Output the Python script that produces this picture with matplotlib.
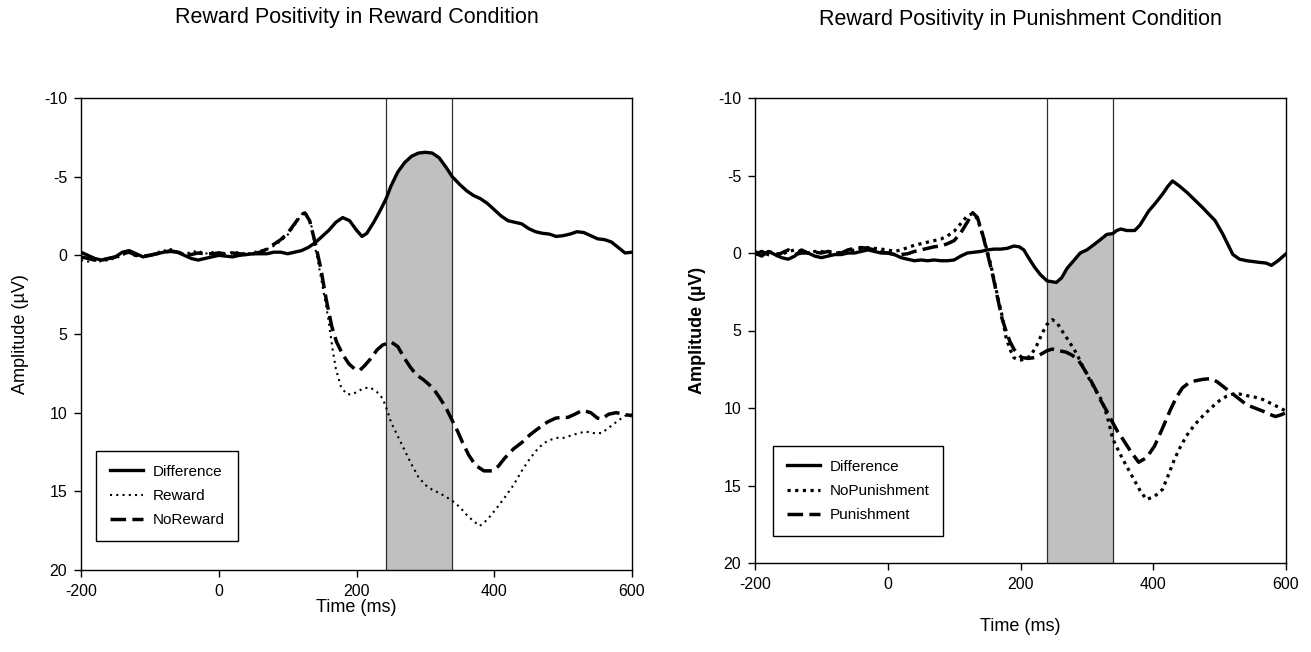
import matplotlib
matplotlib.use('Agg')
import matplotlib.pyplot as plt

plt.rcParams['font.family'] = ['Liberation Sans', 'DejaVu Sans']
plt.rcParams['axes.unicode_minus'] = False

# ---- Reward condition (left panel) ----
t_diff_rew = [-200, -190, -180, -170, -160, -150, -140, -130, -120, -110, -100, -90, -80, -70, -60, -50,
              -40, -30, -20, -10, 0, 10, 20, 30, 40, 50, 60, 70, 80, 90, 100, 110, 120, 130, 140, 150,
              160, 170, 180, 190, 200, 208, 215, 225, 235, 243, 250, 260, 270, 280, 290, 300, 310, 320,
              330, 339, 350, 360, 370, 380, 390, 400, 410, 420, 430, 440, 450, 460, 470, 480, 490, 500,
              510, 520, 530, 540, 550, 560, 570, 580, 590, 600]
diff_rew = [-0.2, 0.0, 0.2, 0.3, 0.2, 0.1, -0.2, -0.3, -0.1, 0.1, 0.0, -0.1, -0.2, -0.3, -0.2, 0.0,
            0.2, 0.3, 0.2, 0.1, 0.0, 0.05, 0.1, 0.0, -0.05, -0.1, -0.1, -0.1, -0.2, -0.2, -0.1, -0.2,
            -0.3, -0.5, -0.8, -1.2, -1.6, -2.1, -2.4, -2.2, -1.6, -1.2, -1.4, -2.1, -2.9, -3.6, -4.4,
            -5.3, -5.9, -6.3, -6.5, -6.55, -6.5, -6.2, -5.6, -5.0, -4.5, -4.1, -3.8, -3.6, -3.3, -2.9,
            -2.5, -2.2, -2.1, -2.0, -1.7, -1.5, -1.4, -1.35, -1.2, -1.25, -1.35, -1.5, -1.45, -1.25,
            -1.05, -1.0, -0.85, -0.5, -0.15, -0.2]

t_reward = [-200, -190, -180, -170, -160, -150, -140, -130, -120, -110, -100, -90, -80, -70, -60, -50,
            -40, -30, -20, -10, 0, 10, 20, 30, 40, 50, 60, 70, 80, 90, 100, 110, 120, 127, 135, 140,
            145, 150, 155, 160, 165, 170, 177, 185, 192, 200, 210, 220, 230, 238, 245, 250, 260, 270,
            280, 290, 300, 310, 320, 330, 339, 350, 360, 370, 379, 390, 403, 415, 428, 440, 452, 465,
            477, 490, 501, 515, 532, 545, 556, 568, 580, 590, 600]
reward = [0.3, 0.4, 0.3, 0.4, 0.3, 0.2, 0.0, -0.2, 0.1, 0.0, 0.0, -0.2, -0.3, -0.4, -0.2, -0.1,
          -0.2, -0.3, -0.1, -0.2, -0.2, -0.1, -0.2, -0.2, -0.1, -0.2, -0.3, -0.4, -0.6, -0.9, -1.3,
          -1.9, -2.6, -2.7, -1.8, -0.5, 0.6, 1.8, 3.0, 4.3, 5.9, 7.2, 8.3, 8.8, 8.85, 8.7, 8.45, 8.4,
          8.7, 9.1, 9.9, 10.6, 11.5, 12.4, 13.3, 14.1, 14.6, 14.9, 15.1, 15.35, 15.6, 16.0, 16.5, 16.9,
          17.2, 16.8, 16.1, 15.4, 14.6, 13.7, 12.9, 12.2, 11.8, 11.6, 11.6, 11.4, 11.2, 11.3, 11.3,
          10.9, 10.5, 10.2, 10.1]

t_noreward = [-200, -190, -180, -170, -160, -150, -140, -130, -120, -110, -100, -90, -80, -70, -60, -50,
              -40, -30, -20, -10, 0, 10, 20, 30, 40, 50, 60, 70, 80, 90, 100, 110, 120, 125, 132, 140,
              148, 156, 164, 171, 180, 189, 198, 205, 212, 220, 230, 238, 250, 260, 269, 278, 287, 297,
              305, 312, 320, 330, 339, 347, 354, 363, 373, 385, 397, 406, 415, 428, 440, 452, 464, 477,
              489, 498, 507, 517, 528, 540, 550, 556, 566, 577, 588, 600]
noreward = [0.1, 0.2, 0.3, 0.3, 0.2, 0.1, -0.1, -0.2, 0.0, 0.05, 0.0, -0.1, -0.2, -0.25, -0.2, -0.1,
            -0.05, -0.15, -0.1, -0.1, -0.15, -0.1, -0.15, -0.1, -0.05, -0.1, -0.2, -0.4, -0.7, -1.0,
            -1.4, -2.0, -2.6, -2.7, -2.2, -0.8, 0.8, 2.8, 4.5, 5.5, 6.3, 6.9, 7.25, 7.3, 7.0, 6.6, 6.0,
            5.7, 5.5, 5.8, 6.5, 7.1, 7.6, 7.9, 8.2, 8.5, 9.0, 9.7, 10.5, 11.2, 11.9, 12.7, 13.35, 13.7,
            13.7, 13.4, 12.9, 12.3, 11.9, 11.4, 11.0, 10.6, 10.35, 10.3, 10.3, 10.1, 9.85, 10.0, 10.35,
            10.4, 10.1, 10.0, 10.1, 10.2]

# ---- Punishment condition (right panel) ----
t_diff_pun = [-200, -190, -180, -170, -160, -150, -140, -130, -120, -110, -100, -90, -80, -70, -60, -50,
              -40, -30, -20, -10, 0, 10, 20, 30, 40, 50, 60, 70, 80, 90, 100, 110, 120, 130, 140, 150,
              160, 170, 180, 190, 198, 205, 212, 221, 230, 240, 247, 254, 262, 270, 280, 290, 300, 311,
              320, 330, 339, 345, 351, 360, 372, 380, 393, 403, 414, 422, 429, 440, 451, 463, 475, 485,
              493, 505, 513, 520, 530, 541, 550, 559, 570, 578, 588, 600]
diff_pun = [0.0, 0.2, -0.1, 0.1, 0.3, 0.4, 0.2, -0.2, 0.0, 0.2, 0.3, 0.2, 0.1, 0.1, 0.0, 0.0,
            -0.1, -0.2, -0.1, 0.0, 0.0, 0.1, 0.3, 0.4, 0.5, 0.45, 0.5, 0.45, 0.5, 0.5, 0.45, 0.2, 0.0,
            -0.05, -0.1, -0.2, -0.25, -0.25, -0.3, -0.45, -0.4, -0.2, 0.3, 0.9, 1.4, 1.8, 1.85, 1.9,
            1.6, 1.0, 0.5, 0.0, -0.2, -0.55, -0.85, -1.2, -1.25, -1.45, -1.55, -1.45, -1.45, -1.8, -2.7,
            -3.2, -3.8, -4.3, -4.65, -4.3, -3.9, -3.4, -2.9, -2.45, -2.1, -1.2, -0.5, 0.1, 0.4, 0.5,
            0.55, 0.6, 0.65, 0.8, 0.5, 0.05]

t_nopun = [-200, -190, -180, -170, -160, -150, -140, -130, -120, -110, -100, -90, -80, -70, -60, -50,
           -40, -30, -20, -10, 0, 10, 20, 30, 40, 50, 60, 70, 80, 90, 100, 110, 120, 128, 135, 145,
           155, 165, 172, 178, 184, 190, 196, 202, 208, 215, 224, 233, 240, 248, 255, 263, 273, 284,
           295, 305, 314, 323, 331, 339, 347, 354, 363, 372, 381, 390, 402, 414, 423, 432, 441, 450,
           462, 475, 487, 499, 510, 520, 530, 541, 553, 565, 582, 600]
nopun = [-0.1, 0.1, -0.1, 0.0, 0.1, -0.1, -0.2, -0.1, 0.0, -0.1, -0.1, 0.0, 0.0, 0.0, -0.1, -0.2,
         -0.3, -0.35, -0.3, -0.25, -0.2, -0.1, -0.2, -0.35, -0.5, -0.6, -0.7, -0.8, -0.9, -1.1, -1.4,
         -1.9, -2.4, -2.55, -2.2, -0.9, 0.7, 2.7, 4.0, 5.4, 6.2, 6.75, 6.9, 6.9, 6.8, 6.65, 6.0, 5.15,
         4.6, 4.3, 4.5, 5.05, 5.7, 6.45, 7.4, 8.25, 8.9, 9.55, 10.6, 12.0, 12.7, 13.3, 14.0, 14.7,
         15.4, 15.9, 15.7, 15.25, 14.3, 13.3, 12.5, 11.8, 11.1, 10.5, 10.0, 9.55, 9.25, 9.1, 9.1, 9.2,
         9.3, 9.45, 9.8, 10.2]

t_pun = [-200, -190, -180, -170, -160, -150, -140, -130, -120, -110, -100, -90, -80, -70, -60, -50,
         -40, -30, -20, -10, 0, 10, 20, 30, 40, 50, 60, 70, 80, 90, 100, 110, 120, 128, 135, 143,
         150, 158, 166, 172, 178, 184, 190, 196, 202, 212, 221, 232, 240, 248, 258, 269, 278, 287,
         296, 305, 313, 320, 330, 339, 346, 354, 366, 378, 390, 402, 414, 426, 435, 444, 453, 463,
         475, 487, 496, 505, 514, 523, 532, 541, 553, 565, 575, 584, 592, 600]
pun = [0.1, -0.1, 0.1, 0.2, 0.0, -0.2, 0.1, 0.0, 0.0, -0.05, 0.0, -0.1, -0.05, 0.0, -0.2, -0.3,
       -0.35, -0.3, -0.2, -0.05, 0.0, 0.1, 0.1, 0.05, -0.1, -0.2, -0.3, -0.4, -0.45, -0.6, -0.8,
       -1.3, -2.0, -2.6, -2.3, -1.2, 0.0, 1.4, 3.0, 4.2, 5.0, 5.7, 6.2, 6.5, 6.75, 6.8, 6.75, 6.5,
       6.3, 6.2, 6.3, 6.4, 6.6, 6.9, 7.5, 8.15, 8.8, 9.45, 10.2, 10.95, 11.5, 12.0, 12.8, 13.5, 13.2,
       12.45, 11.3, 10.1, 9.3, 8.7, 8.4, 8.25, 8.15, 8.1, 8.3, 8.6, 8.9, 9.2, 9.5, 9.8, 10.0, 10.2,
       10.4, 10.55, 10.45, 10.3]

win_rew = (243, 339)
win_pun = (240, 339)
yticks = [-10, -5, 0, 5, 10, 15, 20]
xticks = [-200, 0, 200, 400, 600]


def panel(ax, t_d, d, t_a, a, t_b, b, names, win, dot_style):
    inside = [(t >= win[0]) and (t <= win[1]) for t in t_d]
    ax.fill_between(t_d, d, 20, where=inside, color='#c0c0c0', lw=0, zorder=1)
    ax.axvline(win[0], color='#303030', lw=0.9, zorder=2)
    ax.axvline(win[1], color='#303030', lw=0.9, zorder=2)
    ax.plot(t_d, d, color='black', lw=2.4, label=names[0], zorder=4)
    ax.plot(t_a, a, color='black', lw=dot_style[0], dashes=dot_style[1], label=names[1], zorder=3)
    ax.plot(t_b, b, color='black', lw=2.5, dashes=(4.5, 1.8), label=names[2], zorder=3)
    ax.set_xlim(-200, 600)
    ax.set_ylim(20, -10)
    ax.set_xticks(xticks)
    ax.set_yticks(yticks)
    ax.tick_params(direction='out', length=5, width=1, labelsize=11.5, pad=5)
    for s in ax.spines.values():
        s.set_linewidth(1.0)
    leg = ax.legend(loc='lower left', fontsize=11, handlelength=2.2, handletextpad=0.6,
                    labelspacing=0.68, borderpad=0.9, borderaxespad=0, fancybox=False,
                    framealpha=1, edgecolor='black')
    leg.get_frame().set_linewidth(1.0)
    return leg


fig = plt.figure(figsize=(13.11, 6.52), dpi=100)
ax1 = fig.add_axes([81 / 1311, 1 - 570 / 652, 551 / 1311, 472 / 652])
ax2 = fig.add_axes([755 / 1311, 1 - 563 / 652, 531 / 1311, 465 / 652])

leg1 = panel(ax1, t_diff_rew, diff_rew, t_reward, reward, t_noreward, noreward,
             ['Difference', 'Reward', 'NoReward'], win_rew, (1.5, (1, 2)))
leg1.set_bbox_to_anchor((0.027, 0.061), transform=ax1.transAxes)
leg2 = panel(ax2, t_diff_pun, diff_pun, t_nopun, nopun, t_pun, pun,
             ['Difference', 'NoPunishment', 'Punishment'], win_pun, (2.3, (1, 1.4)))
leg2.set_bbox_to_anchor((0.034, 0.058), transform=ax2.transAxes)

ax1.set_xlabel('Time (ms)', fontsize=13)
ax1.set_ylabel('Amplitude (\u00b5V)', fontsize=13)
ax1.xaxis.set_label_coords(0.5, -0.062)
ax1.yaxis.set_label_coords(-0.094, 0.5)

ax2.set_xlabel('Time (ms)', fontsize=13)
ax2.set_ylabel('Amplitude (\u00b5V)', fontsize=13, fontweight='bold')
ax2.xaxis.set_label_coords(0.5, -0.118)
ax2.yaxis.set_label_coords(-0.092, 0.5)

fig.text(357 / 1311, 1 - 18 / 652, 'Reward Positivity in Reward Condition',
         ha='center', va='center', fontsize=15.5)
fig.text(1020 / 1311, 1 - 20 / 652, 'Reward Positivity in Punishment Condition',
         ha='center', va='center', fontsize=15.5)

fig.savefig('out.png', dpi=100)
